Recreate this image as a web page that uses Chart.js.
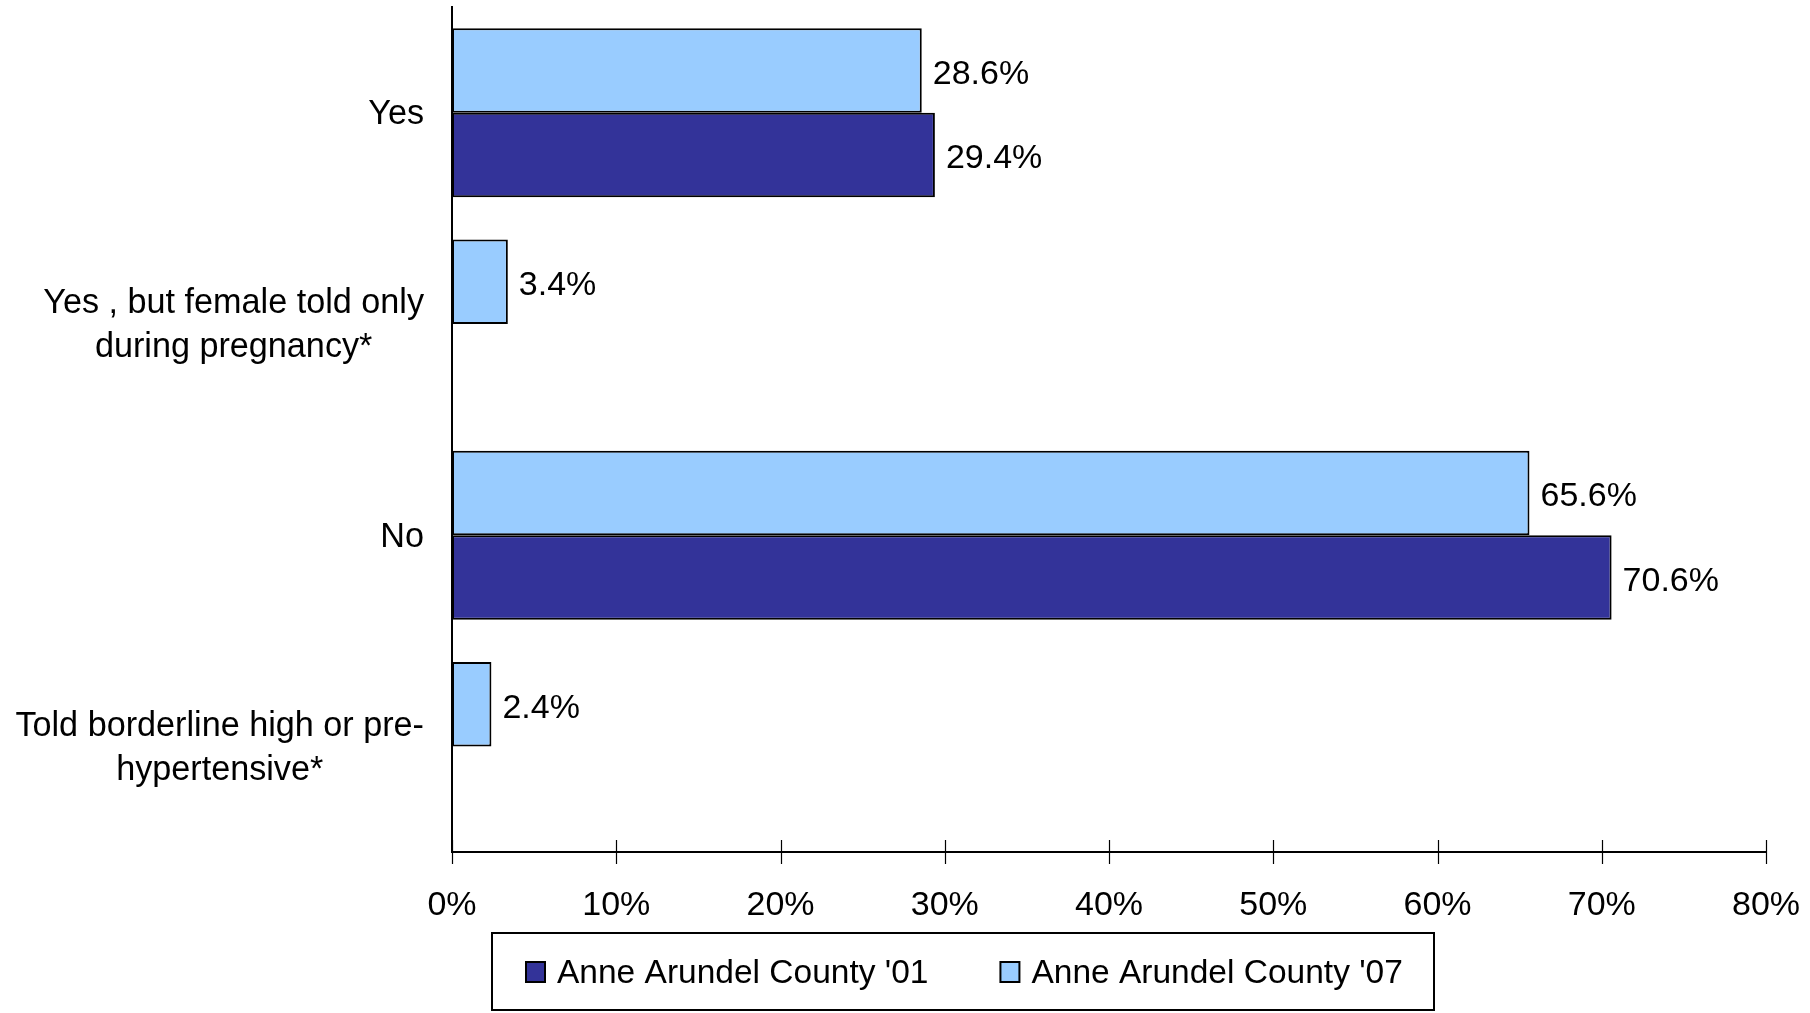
<!DOCTYPE html>
<html>
<head>
<meta charset="utf-8">
<script src="https://cdn.jsdelivr.net/npm/chart.js@4/dist/chart.umd.min.js"></script>
<style>
  html, body { margin: 0; padding: 0; background: #fff; }
  canvas { display: block; }
</style>
</head>
<body>
<canvas id="chart" width="1810" height="1013"></canvas>
<script>
// Categories (multi-line labels are arrays of lines)
const categories = [
  'Yes',
  ['Yes , but female told only', 'during pregnancy*'],
  'No',
  ['Told borderline high or pre-', 'hypertensive*']
];
const seriesNames = ["Anne Arundel County '01", "Anne Arundel County '07"];
const values01 = [29.4, null, 70.6, null];
const values07 = [28.6, 3.4, 65.6, 2.4];
const xTicks = [0, 10, 20, 30, 40, 50, 60, 70, 80];

const FONT = '"Liberation Sans", Arial, Helvetica, sans-serif';
const DARK = '#333399';
const LIGHT = '#99CCFF';

// Value labels to the right of each bar
const valueLabels = {
  id: 'valueLabels',
  afterDatasetsDraw(chart) {
    const ctx = chart.ctx;
    ctx.save();
    ctx.font = '34px ' + FONT;
    ctx.fillStyle = '#000';
    ctx.textAlign = 'left';
    ctx.textBaseline = 'middle';
    chart.data.datasets.forEach((ds, di) => {
      const meta = chart.getDatasetMeta(di);
      meta.data.forEach((el, i) => {
        const v = ds.data[i];
        if (v === null || v === undefined) return;
        ctx.fillText(v.toFixed(1) + '%', el.x + 11, el.y + 4);
      });
    });
    ctx.restore();
  }
};

// Category labels: block right-aligned to the axis, lines centred within the block
const categoryLabels = {
  id: 'categoryLabels',
  afterDraw(chart) {
    const ctx = chart.ctx;
    const yScale = chart.scales.y;
    ctx.save();
    ctx.font = '34.2px ' + FONT;
    ctx.fillStyle = '#000';
    ctx.textAlign = 'center';
    ctx.textBaseline = 'middle';
    const right = chart.chartArea.left - 28;
    chart.data.labels.forEach((lab, i) => {
      const lines = Array.isArray(lab) ? lab : [lab];
      const w = Math.max(...lines.map(l => ctx.measureText(l).width));
      const cx = right - w / 2;
      const cy = yScale.getPixelForValue(i);
      lines.forEach((l, k) => {
        ctx.fillText(l, cx, cy + (k - (lines.length - 1) / 2) * 44 + 2);
      });
    });
    ctx.restore();
  }
};

// Tick marks crossing the value axis
const crossTicks = {
  id: 'crossTicks',
  afterDraw(chart) {
    const ctx = chart.ctx;
    const xs = chart.scales.x;
    const b = chart.chartArea.bottom;
    ctx.save();
    ctx.strokeStyle = '#000';
    ctx.lineWidth = 1.2;
    xTicks.forEach(v => {
      const x = Math.round(xs.getPixelForValue(v)) + 0.5;
      ctx.beginPath();
      ctx.moveTo(x, b - 12);
      ctx.lineTo(x, b + 12);
      ctx.stroke();
    });
    ctx.restore();
  }
};

// Boxed legend below the axis
const boxedLegend = {
  id: 'boxedLegend',
  afterDraw(chart) {
    const ctx = chart.ctx;
    const items = [
      { name: seriesNames[0], color: DARK },
      { name: seriesNames[1], color: LIGHT }
    ];
    ctx.save();
    ctx.fillStyle = '#fff';
    ctx.strokeStyle = '#000';
    ctx.lineWidth = 2;
    ctx.fillRect(492, 933, 942, 77);
    ctx.strokeRect(492, 933, 942, 77);
    ctx.font = '33.5px ' + FONT;
    ctx.textBaseline = 'middle';
    ctx.textAlign = 'left';
    let x = 526;
    const cy = 972;
    items.forEach(it => {
      ctx.fillStyle = it.color;
      ctx.fillRect(x, cy - 10, 19, 20);
      ctx.lineWidth = 2;
      ctx.strokeStyle = '#000';
      ctx.strokeRect(x, cy - 10, 19, 20);
      ctx.fillStyle = '#000';
      ctx.fillText(it.name, x + 31, cy + 2);
      x += 31 + ctx.measureText(it.name).width + 72;
    });
    ctx.restore();
  }
};

new Chart(document.getElementById('chart'), {
  type: 'bar',
  data: {
    labels: categories,
    datasets: [
      {
        label: seriesNames[1],
        data: values07,
        backgroundColor: LIGHT,
        borderColor: '#000',
        borderWidth: 2,
        borderSkipped: false,
        barPercentage: 1,
        categoryPercentage: 0.8
      },
      {
        label: seriesNames[0],
        data: values01,
        backgroundColor: DARK,
        borderColor: '#000',
        borderWidth: 2,
        borderSkipped: false,
        barPercentage: 1,
        categoryPercentage: 0.8
      }
    ]
  },
  options: {
    indexAxis: 'y',
    responsive: false,
    animation: false,
    devicePixelRatio: 1,
    layout: { padding: { top: 7, right: 44, left: 0, bottom: 0 } },
    plugins: {
      legend: { display: false },
      tooltip: { enabled: false }
    },
    scales: {
      x: {
        min: 0,
        max: 80,
        afterBuildTicks(scale) {
          scale.ticks = xTicks.map(v => ({ value: v }));
        },
        afterFit(scale) {
          scale.height = 161;
          scale.paddingLeft = 0;
          scale.paddingRight = 0;
        },
        grid: { display: false },
        border: { display: true, color: '#000', width: 2 },
        ticks: {
          padding: 25,
          maxRotation: 0,
          autoSkip: false,
          color: '#000',
          font: { family: FONT, size: 34 },
          callback: v => v + '%'
        }
      },
      y: {
        afterFit(scale) { scale.width = 452; },
        grid: { display: false },
        border: { display: true, color: '#000', width: 2 },
        ticks: { display: false }
      }
    }
  },
  plugins: [valueLabels, categoryLabels, crossTicks, boxedLegend]
});
</script>
</body>
</html>
